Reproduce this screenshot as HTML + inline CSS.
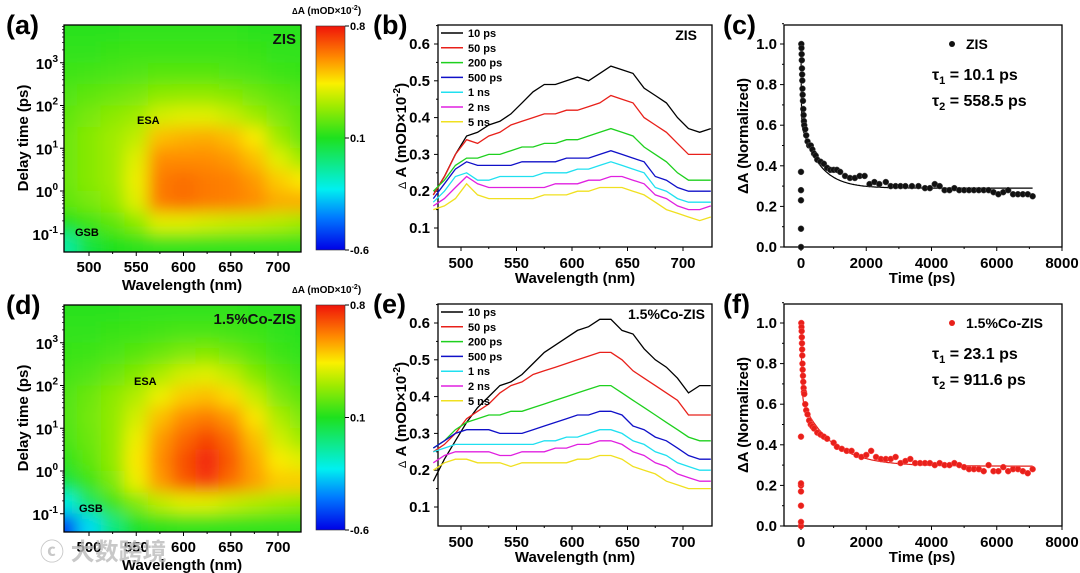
<!DOCTYPE html>
<html><head><meta charset="utf-8">
<style>
html,body{margin:0;padding:0;background:#fff;}
svg{display:block;font-family:"Liberation Sans","Noto Sans CJK SC",sans-serif;font-weight:bold;}
</style></head>
<body>
<svg id="fig" width="1080" height="573" viewBox="0 0 1080 573" xmlns="http://www.w3.org/2000/svg">
<defs>
<filter id="blur" x="-10%" y="-10%" width="120%" height="120%"><feGaussianBlur stdDeviation="8"/></filter>
<clipPath id="clipA"><rect x="64" y="25" width="237" height="227"/></clipPath>
<clipPath id="clipD"><rect x="64" y="305" width="237" height="227"/></clipPath>
<linearGradient id="cbar" x1="0" y1="1" x2="0" y2="0">
<stop offset="0" stop-color="rgb(0,0,230)"/>
<stop offset="0.143" stop-color="rgb(0,120,255)"/>
<stop offset="0.271" stop-color="rgb(0,240,240)"/>
<stop offset="0.5" stop-color="rgb(30,225,30)"/>
<stop offset="0.643" stop-color="rgb(160,235,0)"/>
<stop offset="0.743" stop-color="rgb(250,240,0)"/>
<stop offset="0.857" stop-color="rgb(255,140,0)"/>
<stop offset="1" stop-color="rgb(240,20,10)"/>
</linearGradient>
</defs>
<g id="root"></g>
<text x="40" y="560" font-size="24" fill="#bbb" opacity="0.8">ⓒ 大数跨境</text>
</svg>
<script>
// ---------- DATA ----------
const hmWavelengths = [475,500,525,550,575,600,625,650,675,700,725];
const hmLogTimes = [3.75,3.25,2.75,2.25,1.75,1.25,0.75,0.25,-0.25,-0.75,-1.25];
const hmZIS = [
[.12,.12,.12,.13,.13,.13,.13,.13,.12,.12,.12],
[.13,.13,.14,.15,.15,.15,.15,.15,.14,.13,.13],
[.15,.16,.17,.18,.19,.19,.19,.18,.17,.15,.14],
[.18,.2,.22,.24,.27,.28,.28,.26,.23,.2,.18],
[.2,.24,.27,.3,.38,.4,.4,.36,.3,.25,.2],
[.22,.26,.3,.35,.52,.54,.55,.52,.45,.3,.22],
[.22,.26,.3,.4,.6,.6,.6,.58,.52,.4,.3],
[.22,.26,.3,.42,.63,.65,.63,.62,.58,.5,.45],
[.2,.24,.28,.4,.63,.65,.63,.62,.6,.55,.55],
[.1,.15,.2,.27,.4,.4,.38,.36,.35,.33,.3],
[-.1,.05,.1,.12,.13,.13,.13,.13,.13,.13,.13]];
const hmCoZIS = [
[.12,.12,.12,.13,.13,.13,.13,.13,.12,.12,.12],
[.13,.13,.14,.15,.16,.17,.17,.16,.15,.13,.12],
[.14,.15,.17,.19,.22,.25,.26,.23,.19,.15,.13],
[.16,.18,.22,.26,.32,.38,.4,.35,.26,.2,.16],
[.18,.22,.27,.33,.42,.5,.52,.47,.36,.25,.2],
[.18,.23,.28,.38,.52,.6,.63,.58,.46,.32,.25],
[.17,.22,.28,.42,.58,.66,.72,.65,.52,.38,.3],
[.13,.2,.28,.45,.6,.7,.78,.68,.56,.45,.4],
[.05,.15,.25,.42,.58,.68,.74,.65,.57,.5,.5],
[-.2,0,.15,.25,.35,.4,.4,.36,.33,.3,.28],
[-.5,-.25,-.05,.08,.12,.13,.13,.13,.13,.13,.13]];

const specWl = [475,485,495,505,515,525,535,545,555,565,575,585,595,605,615,625,635,645,655,665,675,685,695,705,715,725];
const seriesLabels = ["10 ps","50 ps","200 ps","500 ps","1 ns","2 ns","5 ns"];
const seriesColors = ["#000","#e8201a","#1ed01e","#1010c8","#20e0f0","#e020e0","#f0e020"];
const zis10ps = [.19,.24,.3,.35,.36,.38,.39,.41,.44,.47,.49,.49,.5,.51,.5,.52,.54,.53,.52,.48,.46,.44,.4,.37,.36,.37];
const zis50ps = [.19,.24,.3,.34,.33,.35,.36,.38,.39,.4,.41,.41,.42,.42,.43,.44,.46,.45,.44,.4,.38,.36,.33,.3,.3,.3];
const zis200ps = [.2,.23,.27,.29,.29,.3,.3,.31,.32,.32,.33,.33,.34,.34,.35,.36,.37,.36,.35,.32,.3,.28,.25,.23,.23,.23];
const zis500ps = [.18,.22,.26,.28,.27,.27,.27,.27,.28,.28,.28,.28,.29,.29,.29,.30,.31,.30,.29,.28,.24,.23,.21,.2,.2,.2];
const zis1ns = [.17,.2,.24,.25,.23,.23,.24,.24,.24,.24,.25,.25,.25,.26,.26,.27,.28,.27,.26,.25,.21,.2,.18,.17,.17,.17];
const zis2ns = [.16,.18,.21,.24,.22,.21,.21,.21,.21,.21,.21,.22,.22,.22,.23,.23,.24,.24,.23,.22,.19,.18,.16,.15,.15,.16];
const zis5ns = [.15,.16,.18,.22,.19,.18,.18,.18,.18,.18,.19,.19,.19,.2,.2,.21,.21,.21,.2,.19,.17,.15,.14,.13,.12,.13];
const co10ps = [.17,.23,.28,.33,.37,.4,.43,.44,.46,.49,.52,.54,.56,.58,.59,.61,.61,.58,.57,.53,.5,.48,.45,.41,.43,.43];
const co50ps = [.25,.27,.3,.34,.36,.38,.41,.43,.44,.46,.47,.48,.49,.5,.51,.52,.52,.5,.47,.45,.43,.41,.39,.35,.35,.35];
const co200ps = [.26,.28,.31,.33,.34,.35,.35,.36,.36,.37,.38,.39,.4,.41,.42,.43,.43,.41,.39,.37,.35,.33,.31,.29,.28,.28];
const co500ps = [.26,.28,.3,.31,.31,.31,.3,.3,.3,.31,.32,.33,.34,.35,.35,.36,.36,.35,.32,.31,.29,.28,.26,.24,.23,.23];
const co1ns = [.25,.26,.27,.27,.27,.27,.27,.27,.27,.27,.28,.28,.29,.29,.3,.31,.31,.3,.28,.27,.25,.24,.22,.21,.2,.2];
const co2ns = [.22,.24,.25,.25,.25,.25,.24,.24,.25,.25,.25,.26,.26,.27,.27,.28,.28,.27,.25,.24,.22,.21,.19,.18,.17,.17];
const co5ns = [.2,.22,.23,.23,.22,.22,.22,.21,.22,.22,.22,.22,.22,.23,.23,.24,.24,.23,.21,.2,.19,.17,.16,.15,.15,.15];

const kinZisT = [0,0,0,0,0,10,15,20,25,30,35,40,45,50,60,70,80,90,100,130,160,200,250,300,350,400,450,500,600,700,800,900,1000,1100,1200,1350,1500,1650,1800,1950,2100,2250,2400,2600,2750,2900,3050,3200,3400,3600,3800,3950,4100,4250,4400,4550,4700,4850,5000,5150,5300,5450,5600,5750,5900,6050,6200,6350,6500,6650,6800,6950,7100];
const kinZisV = [0,.09,.23,.28,.37,1.0,.98,.95,.92,.88,.85,.82,.78,.75,.72,.68,.65,.62,.6,.58,.55,.52,.5,.5,.48,.46,.45,.43,.42,.41,.39,.38,.38,.38,.37,.35,.34,.34,.35,.35,.31,.32,.31,.32,.3,.3,.3,.3,.3,.3,.29,.29,.31,.3,.28,.28,.29,.28,.28,.28,.28,.28,.28,.28,.27,.26,.27,.28,.26,.26,.26,.26,.25];
const kinCoT = [0,0,0,0,0,0,0,10,15,20,25,30,35,40,45,50,60,70,80,90,100,130,160,200,250,300,350,400,500,600,700,800,1000,1100,1250,1400,1550,1700,1850,2000,2150,2300,2450,2600,2750,2900,3050,3200,3350,3500,3650,3800,3950,4100,4250,4400,4550,4700,4850,5000,5150,5300,5450,5600,5750,5900,6050,6200,6350,6500,6650,6800,6950,7100];
const kinCoV = [0,.02,.1,.17,.2,.21,.44,1.0,.98,.96,.93,.9,.87,.84,.8,.77,.74,.71,.68,.66,.65,.6,.57,.55,.52,.5,.49,.48,.46,.45,.44,.43,.41,.39,.38,.37,.37,.35,.34,.35,.37,.34,.33,.33,.33,.34,.31,.32,.33,.31,.31,.31,.31,.3,.31,.3,.3,.31,.3,.29,.28,.28,.28,.27,.3,.27,.27,.29,.27,.28,.28,.27,.26,.28];
const fitZis = [0.39,10.1,0.32,558.5,0.29];   // A1,tau1,A2,tau2,y0
const fitCo = [0.375,23.1,0.33,911.6,0.295];

// ---------- HELPERS ----------
const NS="http://www.w3.org/2000/svg";
const root=document.getElementById('root');
function el(tag,attrs,parent){const e=document.createElementNS(NS,tag);for(const k in attrs)e.setAttribute(k,attrs[k]);(parent||root).appendChild(e);return e;}
function txt(x,y,s,size,attrs,parent){const t=el('text',Object.assign({x:x,y:y,'font-size':size},attrs||{}),parent);t.textContent=s;return t;}
const cstops=[[-0.6,[0,0,230]],[-0.4,[0,120,255]],[-0.22,[0,240,240]],[0.1,[30,225,30]],[0.3,[160,235,0]],[0.44,[250,240,0]],[0.6,[255,140,0]],[0.8,[240,20,10]]];
function cmap(v){v=Math.max(-0.6,Math.min(0.8,v));for(let i=0;i<cstops.length-1;i++){const a=cstops[i],b=cstops[i+1];if(v<=b[0]){const f=(v-a[0])/(b[0]-a[0]);return 'rgb('+[0,1,2].map(j=>Math.round(a[1][j]+f*(b[1][j]-a[1][j]))).join(',')+')';}}return 'rgb(240,20,10)';}

// ---------- HEATMAP ----------
function heatmap(data,yOff,clip,name,sample,cbTop,cbBot){
  const X=wl=>89+(wl-500)*0.945, Y=lt=>191+yOff-lt*42.75;
  const g=el('g',{'clip-path':'url(#'+clip+')'});
  
  
  const gb=el('g',{filter:'url(#blur)'},g);
  hmLogTimes.forEach((lt,r)=>{hmWavelengths.forEach((wl,c)=>{
    let x0=X(wl-12.5),x1=X(wl+12.5),y0=Y(lt+0.25),y1=Y(lt-0.25);
    if(c===0)x0-=30; if(c===hmWavelengths.length-1)x1+=30;
    if(r===0)y0-=30; if(r===hmLogTimes.length-1)y1+=30;
    const rc=el('rect',{x:x0,y:y0,width:x1-x0+0.5,height:y1-y0+0.5,fill:cmap(data[r][c])},gb);
    
    
  });});
  const fr=el('rect',{x:64,y:25+yOff,width:237,height:227,fill:'none',stroke:'#000','stroke-width':1.3});
  
  
  [500,550,600,650,700].forEach(wl=>{el('line',{x1:X(wl),x2:X(wl),y1:252+yOff,y2:256+yOff,stroke:'#000'});
    const t=txt(X(wl),272+yOff,String(wl),15,{'text-anchor':'middle'});});
  [525,575,625,675].forEach(wl=>el('line',{x1:X(wl),x2:X(wl),y1:252+yOff,y2:254+yOff,stroke:'#000'}));
  [-1,0,1,2,3].forEach(d=>{const y=Y(d);el('line',{x1:60,x2:64,y1:y,y2:y,stroke:'#000'});
    const t=txt(58,y+6,'10',15,{'text-anchor':'end'});
    const s=el('tspan',{dy:-7,'font-size':10},t);s.textContent=String(d);
    for(let k=2;k<10;k++){const ym=Y(d+Math.log10(k));if(ym>25+yOff&&ym<252+yOff)el('line',{x1:62,x2:64,y1:ym,y2:ym,stroke:'#000','stroke-width':0.7});}
  });
  let t=txt(182,290+yOff,'Wavelength (nm)',15,{'text-anchor':'middle'});
  t=txt(0,0,'Delay time (ps)',15,{'text-anchor':'middle',transform:'translate(28,'+(138+yOff)+') rotate(-90)'});
  t=txt(296,44+yOff,sample,15,{'text-anchor':'end',fill:'#111'});
  t=txt(yOff?134:137,yOff?113+yOff-8:124,'ESA',11,{});
  t=txt(yOff?79:75,yOff?234+yOff-2:236,'GSB',11,{});
  const cb=el('rect',{x:316,y:cbTop,width:29,height:cbBot-cbTop,fill:'url(#cbar)',stroke:'#333','stroke-width':0.6});
  
  [['0.8',cbTop],['0.1',(cbTop+cbBot)/2],['-0.6',cbBot]].forEach(p=>{el('line',{x1:345,x2:349,y1:p[1],y2:p[1],stroke:'#000'});
    const l=txt(350,p[1]+4,p[0],11,{});});
  t=txt(292,cbTop-12,'',10,{});
  t.innerHTML='<tspan font-size="8">Δ</tspan>A (mOD×10<tspan dy="-4" font-size="7">-2</tspan><tspan dy="4">)</tspan>';
}
heatmap(hmZIS,0,'clipA','zis','ZIS',26,250);
heatmap(hmCoZIS,280,'clipD','co-zis','1.5%Co-ZIS',305,530);

// ---------- SPECTRA ----------
function spectra(series,yOff,name,sample){
  const X=wl=>461+(wl-500)*1.11, Y=v=>44+yOff+(0.6-v)*368;
  const fy0=25+yOff, fy1=(yOff?526:247);
  const g=el('g',{});
  
  el('rect',{x:438,y:fy0,width:274,height:fy1-fy0,fill:'none',stroke:'#000','stroke-width':1.3},g);
  [500,550,600,650,700].forEach(wl=>{el('line',{x1:X(wl),x2:X(wl),y1:fy1,y2:fy1+4,stroke:'#000'},g);
    const t=txt(X(wl),fy1+21,String(wl),15,{'text-anchor':'middle'},g);});
  [525,575,625,675].forEach(wl=>el('line',{x1:X(wl),x2:X(wl),y1:fy1,y2:fy1+2,stroke:'#000'},g));
  [0.1,0.2,0.3,0.4,0.5,0.6].forEach(v=>{el('line',{x1:434,x2:438,y1:Y(v),y2:Y(v),stroke:'#000'},g);
    const t=txt(430,Y(v)+5,v.toFixed(1),15,{'text-anchor':'end'},g);
    el('line',{x1:436,x2:438,y1:Y(v+0.05),y2:Y(v+0.05),stroke:'#000'},g);});
  series.forEach((s,i)=>{
    const p=el('path',{d:s.map((v,j)=>(j?'L':'M')+X(specWl[j]).toFixed(1)+','+Y(v).toFixed(1)).join(''),fill:'none',stroke:seriesColors[i],'stroke-width':1.3},g);
    
    
    const ly=33+yOff+i*14.8;
    el('line',{x1:441,x2:463,y1:ly,y2:ly,stroke:seriesColors[i],'stroke-width':1.5},g);
    const t=txt(468,ly+4,seriesLabels[i],11,{},g);
  });
  let t=txt(575,fy1+36,'Wavelength (nm)',15,{'text-anchor':'middle'},g);
  t=txt(0,0,'',15,{'text-anchor':'middle',transform:'translate(406,'+(136+yOff)+') rotate(-90)'},g);
  t.innerHTML='<tspan font-size="11" font-weight="normal">Δ</tspan> A (mOD×10<tspan dy="-6" font-size="10">-2</tspan><tspan dy="6">)</tspan>';
  t=txt(sample==='ZIS'?697:705,40+yOff,sample,14,{'text-anchor':'end'},g);
}
spectra([zis10ps,zis50ps,zis200ps,zis500ps,zis1ns,zis2ns,zis5ns],0,'zis','ZIS');
spectra([co10ps,co50ps,co200ps,co500ps,co1ns,co2ns,co5ns],279,'co-zis','1.5%Co-ZIS');

// ---------- KINETICS ----------
function kinetics(T,V,fit,yOff,name,color,sample,t1,t2){
  const X=t=>801+t*261/8000, Y=v=>247+yOff-v*203;
  const fy0=25+yOff, fy1=247+yOff;
  const g=el('g',{});
  
  el('rect',{x:784,y:fy0,width:278,height:fy1-fy0,fill:'none',stroke:'#000','stroke-width':1.3},g);
  [0,2000,4000,6000,8000].forEach(tv=>{el('line',{x1:X(tv),x2:X(tv),y1:fy1,y2:fy1+4,stroke:'#000'},g);
    const t=txt(X(tv),fy1+21,String(tv),15,{'text-anchor':'middle'},g);
    if(tv<8000)el('line',{x1:X(tv+1000),x2:X(tv+1000),y1:fy1,y2:fy1+2,stroke:'#000'},g);});
  [0,0.2,0.4,0.6,0.8,1.0].forEach(v=>{el('line',{x1:780,x2:784,y1:Y(v),y2:Y(v),stroke:'#000'},g);
    const t=txt(777,Y(v)+5,v.toFixed(1),15,{'text-anchor':'end'},g);
    el('line',{x1:782,x2:784,y1:Y(v+0.1),y2:Y(v+0.1),stroke:'#000'},g);});
  let d='';
  for(let t=0;t<=7100;t+=(t<200?2:25)){const v=fit[0]*Math.exp(-t/fit[1])+fit[2]*Math.exp(-t/fit[3])+fit[4];d+=(t?'L':'M')+X(t).toFixed(1)+','+Y(v).toFixed(1);}
  const fl=el('path',{d:d,fill:'none',stroke:color==='#111'?'#000':'#e0201a','stroke-width':1.2},g);
  
  T.forEach((tv,i)=>{const c=el('circle',{cx:X(tv),cy:Y(V[i]),r:3,fill:color,stroke:color==='#111'?'#555':'#f55','stroke-width':0.5},g);
    });
  el('circle',{cx:952,cy:44+yOff,r:3,fill:color},g);
  let t=txt(966,49+yOff,sample,14,{},g);
  t=txt(932,80+yOff,'',16,{},g);
  t.innerHTML='τ<tspan dy="4" font-size="11">1</tspan><tspan dy="-4"> = '+t1+'</tspan>';
  t=txt(932,106+yOff,'',16,{},g);
  t.innerHTML='τ<tspan dy="4" font-size="11">2</tspan><tspan dy="-4"> = '+t2+'</tspan>';
  t=txt(922,fy1+36,'Time (ps)',15,{'text-anchor':'middle'},g);
  t=txt(0,0,'ΔA (Normalized)',15,{'text-anchor':'middle',transform:'translate(748,'+(136+yOff)+') rotate(-90)'},g);
}
kinetics(kinZisT,kinZisV,fitZis,0,'zis','#111','ZIS','10.1 ps','558.5 ps');
kinetics(kinCoT,kinCoV,fitCo,279,'co-zis','#e8201a','1.5%Co-ZIS','23.1 ps','911.6 ps');

// ---------- PANEL LABELS ----------
[['(a)',6,34],['(b)',373,34],['(c)',723,34],['(d)',6,314],['(e)',373,313],['(f)',723,313]].forEach(p=>{
  const t=txt(p[1],p[2],p[0],27,{});
  
  
});
</script>
</body></html>
